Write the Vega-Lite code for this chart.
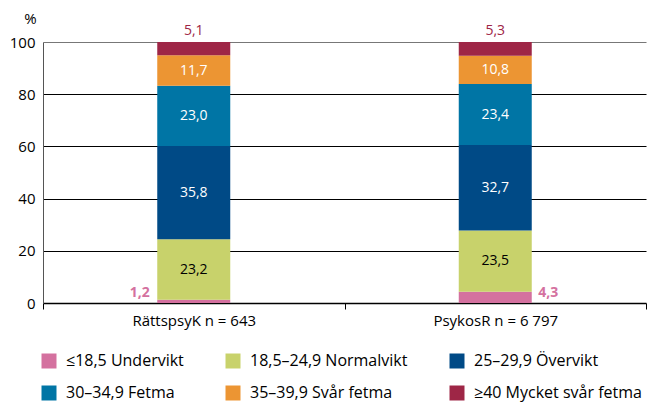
{
  "$schema": "https://vega.github.io/schema/vega-lite/v6.json",
  "width": 603,
  "height": 261,
  "autosize": "none",
  "padding": {"left": 43, "top": 42, "right": 1, "bottom": 100},
  "background": "white",
  "config": {
    "font": "Open Sans",
    "view": {"stroke": null},
    "locale": {"number": {"decimal": ",", "thousands": " ", "grouping": [3], "currency": ["", " kr"]}},
    "axis": {"labelFont": "Open Sans", "titleFont": "Open Sans"}
  },
  "data": {
    "values": [
      {"group": "RättspsyK n = 643", "klass": "≤18,5 Undervikt", "ord": 1, "value": 1.2},
      {"group": "RättspsyK n = 643", "klass": "18,5–24,9 Normalvikt", "ord": 2, "value": 23.2},
      {"group": "RättspsyK n = 643", "klass": "25–29,9 Övervikt", "ord": 3, "value": 35.8},
      {"group": "RättspsyK n = 643", "klass": "30–34,9 Fetma", "ord": 4, "value": 23.0},
      {"group": "RättspsyK n = 643", "klass": "35–39,9 Svår fetma", "ord": 5, "value": 11.7},
      {"group": "RättspsyK n = 643", "klass": "≥40 Mycket svår fetma", "ord": 6, "value": 5.1},
      {"group": "PsykosR n = 6 797", "klass": "≤18,5 Undervikt", "ord": 1, "value": 4.3},
      {"group": "PsykosR n = 6 797", "klass": "18,5–24,9 Normalvikt", "ord": 2, "value": 23.5},
      {"group": "PsykosR n = 6 797", "klass": "25–29,9 Övervikt", "ord": 3, "value": 32.7},
      {"group": "PsykosR n = 6 797", "klass": "30–34,9 Fetma", "ord": 4, "value": 23.4},
      {"group": "PsykosR n = 6 797", "klass": "35–39,9 Svår fetma", "ord": 5, "value": 10.8},
      {"group": "PsykosR n = 6 797", "klass": "≥40 Mycket svår fetma", "ord": 6, "value": 5.3}
    ]
  },
  "encoding": {
    "x": {
      "field": "group",
      "type": "nominal",
      "sort": ["RättspsyK n = 643", "PsykosR n = 6 797"],
      "scale": {"paddingInner": 0, "paddingOuter": 0},
      "axis": {
        "title": null,
        "labelAngle": 0,
        "labelFontSize": 15,
        "labelColor": "#000",
        "domainColor": "#000",
        "domainWidth": 1.5,
        "tickColor": "#000",
        "tickSize": 6,
        "tickBand": "extent",
        "labelPadding": 4
      }
    },
    "order": {"field": "ord", "type": "quantitative"}
  },
  "layer": [
    {
      "mark": {"type": "bar", "width": 73},
      "encoding": {
        "y": {
          "field": "value",
          "type": "quantitative",
          "stack": "zero",
          "scale": {"domain": [0, 100], "nice": false},
          "axis": {
            "values": [0, 20, 40, 60, 80, 100],
            "title": "%",
            "titleAngle": 0,
            "titleFontSize": 15,
            "titleFontWeight": "normal",
            "titleAlign": "center",
            "titleBaseline": "middle",
            "titleX": -13,
            "titleY": -24,
            "labelFontSize": 15,
            "labelColor": "#000",
            "labelPadding": 8,
            "ticks": false,
            "domain": true,
            "domainColor": "#555",
            "grid": true,
            "gridColor": {"condition": {"test": "datum.value === 100", "value": "#777"}, "value": "#000"},
            "gridWidth": {"condition": {"test": "datum.value === 0", "value": 0}, "value": 1.2}
          }
        },
        "color": {
          "field": "klass",
          "type": "nominal",
          "sort": ["≤18,5 Undervikt", "18,5–24,9 Normalvikt", "25–29,9 Övervikt", "30–34,9 Fetma", "35–39,9 Svår fetma", "≥40 Mycket svår fetma"],
          "scale": {
            "domain": ["≤18,5 Undervikt", "18,5–24,9 Normalvikt", "25–29,9 Övervikt", "30–34,9 Fetma", "35–39,9 Svår fetma", "≥40 Mycket svår fetma"],
            "range": ["#D4719F", "#C8D26B", "#004A86", "#0075A5", "#EC9533", "#9E2646"]
          },
          "legend": {
            "title": null,
            "orient": "none",
            "legendX": -2,
            "legendY": 311,
            "direction": "horizontal",
            "columns": 3,
            "gridAlign": "each",
            "columnPadding": 41,
            "rowPadding": 16,
            "padding": 0,
            "symbolType": "square",
            "symbolSize": 225,
            "symbolStrokeWidth": 0,
            "symbolOpacity": 1,
            "labelFontSize": 16,
            "labelColor": "#000",
            "labelOffset": 9,
            "labelLimit": 300
          }
        }
      }
    },
    {
      "mark": {"type": "text", "fontSize": 14, "baseline": "middle"},
      "encoding": {
        "y": {"field": "value", "type": "quantitative", "stack": "zero", "bandPosition": 0.5},
        "text": {"condition": {"test": "datum.value > 8", "field": "value", "type": "quantitative", "format": ".1f"}, "value": ""},
        "color": {"condition": {"test": "datum.ord === 2", "value": "#000"}, "value": "#fff"}
      }
    },
    {
      "mark": {"type": "text", "fontSize": 14, "baseline": "bottom", "dy": -4, "color": "#9E2646", "fontWeight": 500},
      "encoding": {
        "y": {"field": "value", "type": "quantitative", "stack": "zero"},
        "text": {"condition": {"test": "datum.ord === 6", "field": "value", "type": "quantitative", "format": ".1f"}, "value": ""}
      }
    },
    {
      "transform": [{"filter": "datum.ord === 1 && datum.group === 'RättspsyK n = 643'"}],
      "mark": {"type": "text", "fontSize": 14, "baseline": "bottom", "align": "right", "dx": -44, "dy": -3, "color": "#D4719F", "fontWeight": "bold"},
      "encoding": {
        "y": {"field": "value", "type": "quantitative", "stack": "zero", "bandPosition": 0},
        "text": {"field": "value", "type": "quantitative", "format": ".1f"}
      }
    },
    {
      "transform": [{"filter": "datum.ord === 1 && datum.group === 'PsykosR n = 6 797'"}],
      "mark": {"type": "text", "fontSize": 14, "baseline": "bottom", "align": "left", "dx": 43, "dy": -3, "color": "#D4719F", "fontWeight": "bold"},
      "encoding": {
        "y": {"field": "value", "type": "quantitative", "stack": "zero", "bandPosition": 0},
        "text": {"field": "value", "type": "quantitative", "format": ".1f"}
      }
    }
  ]
}
